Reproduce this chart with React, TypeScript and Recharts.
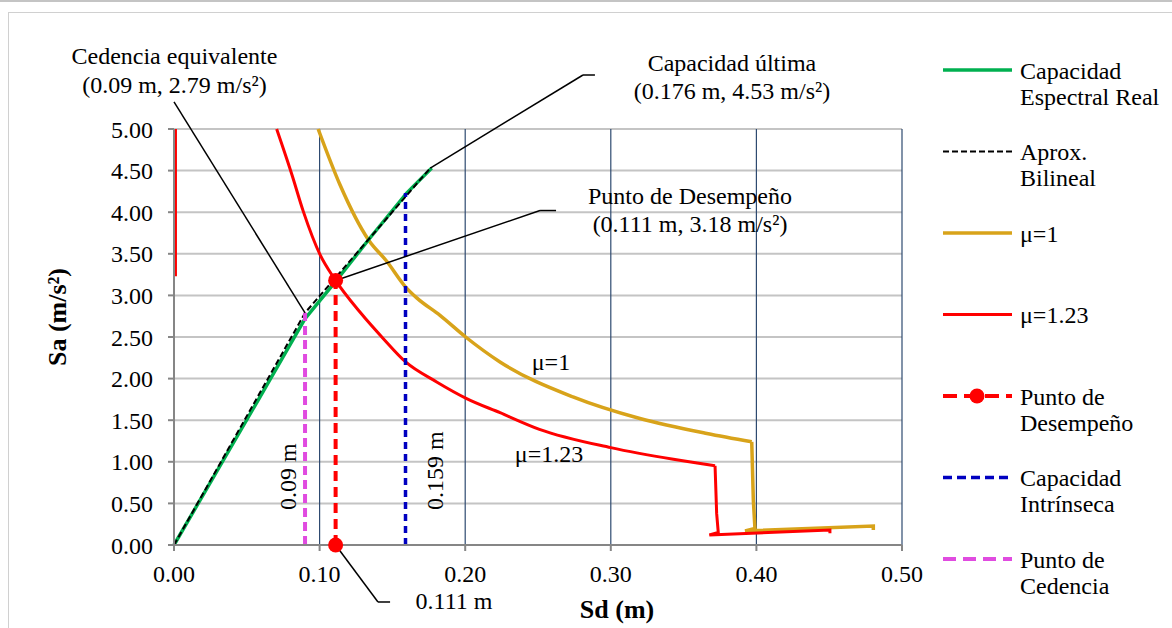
import { LineChart, Line, XAxis, YAxis, CartesianGrid, ReferenceLine, ReferenceDot } from "recharts";

const FONT = "'Liberation Serif', 'Times New Roman', serif";

// axis ticks
const SD_TICKS = [0, 0.1, 0.2, 0.3, 0.4, 0.5];
const SA_TICKS = [0, 0.5, 1, 1.5, 2, 2.5, 3, 3.5, 4, 4.5, 5];

// [Sd (m), Sa (m/s²)]
const CAPACIDAD_REAL: [number, number][] = [
  [0, 0], [0.0591, 1.78], [0.09, 2.72], [0.1106, 3.16], [0.1346, 3.69], [0.1598, 4.23], [0.177, 4.53],
];
const BILINEAL: [number, number][] = [[0, 0], [0.09, 2.79], [0.176, 4.53]];

// demand spectra: smooth branch + the drop at the end
const MU1: [number, number][] = [
  [0.099, 5.0], [0.114, 4.33], [0.1335, 3.67], [0.1461, 3.41], [0.1591, 3.1], [0.1667, 2.97],
  [0.1827, 2.76], [0.2003, 2.5], [0.2239, 2.2], [0.274, 1.78], [0.32, 1.52], [0.366, 1.34],
  [0.3968, 1.24],
];
const MU1_DROP: [number, number][] = [
  [0.3968, 1.24], [0.3979, 0.54], [0.399, 0.2], [0.3922, 0.17], [0.4803, 0.228], [0.4803, 0.18],
];
const MU123_TOP: [number, number][] = [[0.001, 3.23], [0.001, 5.0]];
const MU123: [number, number][] = [
  [0.0705, 5.0], [0.081, 4.45], [0.0888, 4.01], [0.1003, 3.49], [0.1106, 3.19], [0.1277, 2.8],
  [0.1438, 2.48], [0.1591, 2.2], [0.1804, 1.96], [0.201, 1.76], [0.2239, 1.59], [0.251, 1.39],
  [0.3, 1.17], [0.343, 1.03], [0.3716, 0.953],
];
const MU123_DROP: [number, number][] = [
  [0.3716, 0.953], [0.3727, 0.38], [0.3738, 0.152], [0.3677, 0.12], [0.4505, 0.18], [0.4505, 0.14],
];

const PUNTO_DESEMPENO: [number, number][] = [[0.111, 0], [0.111, 3.18]];
const CAPACIDAD_INTRINSECA: [number, number][] = [[0.159, 0], [0.159, 4.23]];
const PUNTO_CEDENCIA: [number, number][] = [[0.09, 0], [0.09, 2.79]];

// annotation leaders, in data units
const LEADERS: [number, number][][] = [
  [[0.0, 5.325], [0.09, 2.79]],
  [[0.176, 4.53], [0.2809, 5.649]], [[0.2809, 5.649], [0.2891, 5.649]],
  [[0.111, 3.18], [0.2514, 4.02]], [[0.2514, 4.02], [0.2624, 4.02]],
  [[0.111, 0], [0.1401, -0.685]], [[0.1401, -0.685], [0.1484, -0.685]],
];

const NOTE_TEXT = [
  ["Cedencia equivalente", "(0.09 m, 2.79 m/s²)"],
  ["Capacidad última", "(0.176 m, 4.53 m/s²)"],
  ["Punto de Desempeño", "(0.111 m, 3.18 m/s²)"],
  ["0.111 m"],
  ["μ=1"],
  ["μ=1.23"],
  ["0.09 m"],
  ["0.159 m"],
];
const NOTE_AT: [number, number][] = [
  [0.0003, 5.781], [0.3832, 5.701], [0.3544, 4.099], [0.1923, -0.769],
  [0.2589, 2.103], [0.2576, 1.001], [0.0835, 0.4207], [0.1848, 0.4207],
];
const NOTE_ROTATED = [false, false, false, false, false, false, true, true];

const LEGEND_LABELS = [
  ["Capacidad", "Espectral Real"],
  ["Aprox.", "Bilineal"],
  ["μ=1"],
  ["μ=1.23"],
  ["Punto de", "Desempeño"],
  ["Capacidad", "Intrínseca"],
  ["Punto de", "Cedencia"],
];

const GREEN = "#00B050";
const GOLD = "#D8A31A";
const RED = "#FF0000";
const BLUE = "#0000C0";
const MAGENTA = "#E04BE0";
const NAVY = "#2E4A70";
const FS = 24;

const LEGEND_STYLE = [
  { stroke: GREEN, width: 3.5, dash: undefined, dot: false },
  { stroke: "#000", width: 2, dash: "6 3", dot: false },
  { stroke: GOLD, width: 3.5, dash: undefined, dot: false },
  { stroke: RED, width: 3, dash: undefined, dot: false },
  { stroke: RED, width: 4, dash: "14 7", dot: true },
  { stroke: BLUE, width: 3.5, dash: "9 5", dot: false },
  { stroke: MAGENTA, width: 4, dash: "13 7", dot: false },
];

const pts = (arr: [number, number][]) => arr.map(([x, y]) => ({ x, y }));

const Note = (props: any) => {
  const { cx, cy, lines, rotated } = props;
  return (
    <text
      x={cx}
      y={cy}
      textAnchor={rotated ? "start" : "middle"}
      fontFamily={FONT}
      fontSize={FS}
      fill="#000"
      transform={rotated ? `rotate(-90 ${cx} ${cy})` : undefined}
    >
      {lines.map((l: string, i: number) => (
        <tspan key={i} x={cx} dy={i === 0 ? 0 : 28.5}>{l}</tspan>
      ))}
    </text>
  );
};

export default function App() {
  const fmt = (v: number) => v.toFixed(2);
  const tick = { fill: "#000", fontSize: FS, fontFamily: FONT };
  const axisStroke = { stroke: "#868686", strokeWidth: 2 };

  return (
    <div style={{ position: "absolute", left: 0, top: 0, width: 1172, height: 628, background: "#fff", overflow: "hidden" }}>
      {/* page frame */}
      <div style={{ position: "absolute", left: 0, top: 0, width: 1172, height: 2, background: "#C4C4C4" }} />
      <div style={{ position: "absolute", left: 8, top: 12, width: 1164, height: 1, background: "#D0D0D0" }} />
      <div style={{ position: "absolute", left: 8, top: 12, width: 1, height: 616, background: "#D0D0D0" }} />

      <div style={{ position: "absolute", left: 0, top: 0 }}>
        <LineChart width={1172} height={628} margin={{ top: 129, right: 270, bottom: 0, left: 0 }}>
          <CartesianGrid horizontal vertical={false} stroke="#C4C4C4" strokeWidth={2} />
          <CartesianGrid horizontal={false} vertical stroke={NAVY} strokeWidth={1.2} />
          <XAxis
            dataKey="x"
            type="number"
            domain={[0, 0.5]}
            ticks={SD_TICKS}
            interval={0}
            tickFormatter={fmt}
            tick={tick}
            tickSize={6}
            tickMargin={14}
            axisLine={axisStroke}
            tickLine={axisStroke}
            height={83}
            label={{
              content: ({ viewBox }: any) => (
                <text x={viewBox.x + 443} y={viewBox.y + 73} textAnchor="middle" fontFamily={FONT} fontSize={26} fontWeight="bold" fill="#000">
                  Sd (m)
                </text>
              ),
            }}
          />
          <YAxis
            dataKey="y"
            type="number"
            domain={[0, 5]}
            ticks={SA_TICKS}
            interval={0}
            tickFormatter={fmt}
            tick={tick}
            tickSize={6}
            tickMargin={15}
            axisLine={axisStroke}
            tickLine={axisStroke}
            width={174}
            label={{
              content: ({ viewBox }: any) => {
                const cx = viewBox.x + 66;
                const cy = viewBox.y + viewBox.height / 2 - 20;
                return (
                  <text x={cx} y={cy} textAnchor="middle" fontFamily={FONT} fontSize={26} fontWeight="bold" fill="#000" transform={`rotate(-90 ${cx} ${cy})`}>
                    Sa (m/s²)
                  </text>
                );
              },
            }}
          />

          <Line type="monotone" data={pts(MU1)} dataKey="y" stroke={GOLD} strokeWidth={3.5} dot={false} activeDot={false} isAnimationActive={false} />
          <Line data={pts(MU1_DROP)} dataKey="y" stroke={GOLD} strokeWidth={3.5} dot={false} activeDot={false} isAnimationActive={false} />
          <Line data={pts(MU123_TOP)} dataKey="y" stroke={RED} strokeWidth={3} dot={false} activeDot={false} isAnimationActive={false} />
          <Line type="monotone" data={pts(MU123)} dataKey="y" stroke={RED} strokeWidth={3} dot={false} activeDot={false} isAnimationActive={false} />
          <Line data={pts(MU123_DROP)} dataKey="y" stroke={RED} strokeWidth={3} dot={false} activeDot={false} isAnimationActive={false} />
          <Line data={pts(CAPACIDAD_REAL)} dataKey="y" stroke={GREEN} strokeWidth={3.5} dot={false} activeDot={false} isAnimationActive={false} />
          <Line data={pts(BILINEAL)} dataKey="y" stroke="#000" strokeWidth={2} strokeDasharray="6 3" dot={false} activeDot={false} isAnimationActive={false} />
          <Line data={pts(CAPACIDAD_INTRINSECA)} dataKey="y" stroke={BLUE} strokeWidth={3.5} strokeDasharray="7 5" dot={false} activeDot={false} isAnimationActive={false} />
          <Line data={pts(PUNTO_CEDENCIA)} dataKey="y" stroke={MAGENTA} strokeWidth={4} strokeDasharray="9 5" dot={false} activeDot={false} isAnimationActive={false} />
          <Line
            data={pts(PUNTO_DESEMPENO)}
            dataKey="y"
            stroke={RED}
            strokeWidth={4}
            strokeDasharray="10 6"
            dot={{ r: 7.5, fill: RED, stroke: "none", strokeDasharray: "" }}
            activeDot={false}
            isAnimationActive={false}
          />

          {LEADERS.map((seg, i) => (
            <ReferenceLine
              key={`l${i}`}
              segment={seg.map(([x, y]) => ({ x, y }))}
              ifOverflow="visible"
              stroke="#000"
              strokeWidth={1.5}
            />
          ))}
          {NOTE_TEXT.map((lines, i) => (
            <ReferenceDot
              key={`n${i}`}
              x={NOTE_AT[i][0]}
              y={NOTE_AT[i][1]}
              ifOverflow="visible"
              shape={(p: any) => <Note cx={p.cx} cy={p.cy} lines={lines} rotated={NOTE_ROTATED[i]} />}
            />
          ))}
        </LineChart>
      </div>

      {/* legend */}
      <svg style={{ position: "absolute", left: 0, top: 0 }} width={1172} height={628}>
        {LEGEND_LABELS.map((lines, i) => {
          const y = 70 + i * 81.5;
          const s = LEGEND_STYLE[i];
          return (
            <g key={i}>
              <line x1={943} x2={1012} y1={y} y2={y} stroke={s.stroke} strokeWidth={s.width} strokeDasharray={s.dash} />
              {s.dot && <circle cx={977} cy={y} r={7.5} fill={s.stroke} />}
              <text x={1020} y={y + 8.5} fontFamily={FONT} fontSize={FS} fill="#000">
                {lines.map((l, j) => (
                  <tspan key={j} x={1020} dy={j === 0 ? 0 : 26}>{l}</tspan>
                ))}
              </text>
            </g>
          );
        })}
      </svg>
    </div>
  );
}
